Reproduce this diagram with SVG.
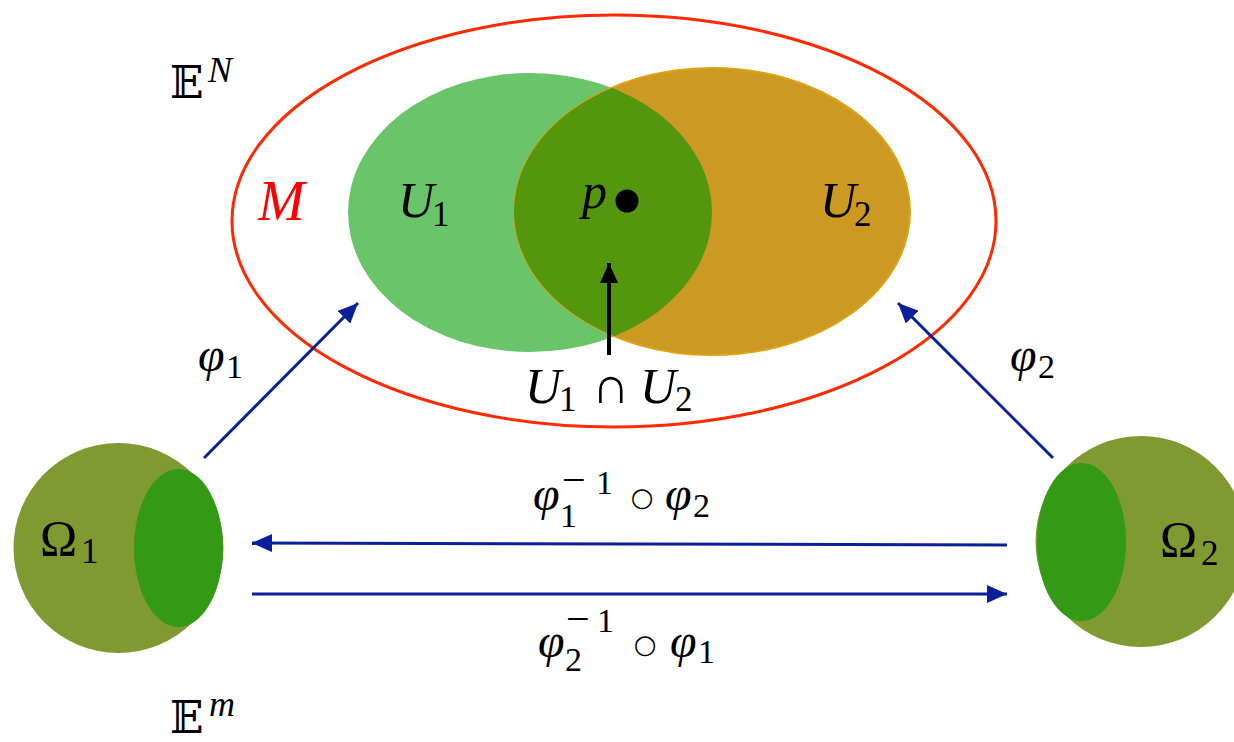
<svg xmlns="http://www.w3.org/2000/svg" width="1234" height="742" viewBox="0 0 1234 742">
<style>
.t{font-family:"Liberation Serif","DejaVu Serif",serif;fill:#000}
.i{font-style:italic}
.bb{font-family:"DejaVu Serif","DejaVu Sans","Noto Sans",serif;fill:#000}
.op{font-family:"DejaVu Sans","Noto Sans",sans-serif;fill:#000}
.conn{stroke:#0b1f99;stroke-width:3;fill:none}
</style>
<defs>
<marker id="ah" viewBox="0 0 20 18" refX="20" refY="9" markerWidth="20" markerHeight="18" markerUnits="userSpaceOnUse" orient="auto">
<path d="M0,0 L20,9 L0,18 Z" fill="#0b1f99"/>
</marker>
<marker id="ahk" viewBox="0 0 20 18" refX="20" refY="9" markerWidth="20" markerHeight="18" markerUnits="userSpaceOnUse" orient="auto">
<path d="M0,0 L20,9 L0,18 Z" fill="#000"/>
</marker>
<clipPath id="cU1"><ellipse cx="530" cy="212.5" rx="182" ry="139.5"/></clipPath>
</defs>

<g id="M">
<ellipse cx="614" cy="221" rx="382" ry="206" fill="none" stroke="#ff2a00" stroke-width="3"/>
<text class="t i" x="258" y="220" font-size="56" style="fill:#ff0000">M</text>
</g>

<g id="U1">
<ellipse cx="530" cy="212.5" rx="182" ry="139.5" fill="#6ac46a"/>
</g>
<g id="U2">
<ellipse cx="712" cy="211.5" rx="198" ry="143.5" fill="#cc9922" stroke="#dea21a" stroke-width="2"/>
</g>
<g id="U1capU2">
<ellipse cx="712" cy="211.5" rx="198" ry="143.5" fill="#55960f" clip-path="url(#cU1)"/>
</g>
<g id="labels-U">
<text class="t i" x="398" y="217" font-size="50">U</text>
<text class="t" x="432" y="226" font-size="35">1</text>
<text class="t i" x="820" y="217" font-size="50">U</text>
<text class="t" x="854" y="226" font-size="35">2</text>
</g>

<g id="p">
<text class="t i" x="582" y="208" font-size="50">p</text>
<circle cx="627" cy="201" r="11.5" fill="#000"/>
</g>

<g id="intersection-label">
<text class="t i" x="525" y="403" font-size="50">U</text>
<text class="t" x="559" y="411" font-size="35">1</text>
<text class="t" x="592" y="403" font-size="52">∩</text>
<text class="t i" x="640" y="403" font-size="50">U</text>
<text class="t" x="675" y="411" font-size="35">2</text>
</g>

<g id="EN">
<text class="bb" x="170" y="98" font-size="44">𝔼</text>
<text class="t i" x="208" y="82" font-size="36">N</text>
</g>
<g id="Em">
<text class="bb" x="170" y="733" font-size="44">𝔼</text>
<text class="t i" x="209" y="716" font-size="36">m</text>
</g>

<g id="Omega1">
<circle cx="118.5" cy="548" r="105" fill="#7e9a31"/>
<ellipse cx="178.5" cy="548" rx="44.5" ry="79" fill="#349a16"/>
<text class="t" x="40" y="555" font-size="50">Ω</text>
<text class="t" x="81" y="563" font-size="35">1</text>
</g>
<g id="Omega2">
<circle cx="1141" cy="541.5" r="105.5" fill="#7e9a31"/>
<ellipse cx="1081.5" cy="542" rx="44.5" ry="79" fill="#349a16"/>
<text class="t" x="1160" y="556" font-size="50">Ω</text>
<text class="t" x="1201" y="565" font-size="35">2</text>
</g>

<g id="connectors">
<line class="conn" x1="204" y1="458" x2="358" y2="303" marker-end="url(#ah)"/>
<line class="conn" x1="1053" y1="458" x2="898" y2="303" marker-end="url(#ah)"/>
<line class="conn" x1="1007" y1="545" x2="252" y2="543" marker-end="url(#ah)"/>
<line class="conn" x1="252" y1="594" x2="1007" y2="594" marker-end="url(#ah)"/>
<line x1="609" y1="355" x2="609" y2="263" stroke="#000" stroke-width="4" marker-end="url(#ahk)"/>
</g>

<g id="connector-labels">
<text class="t i" x="198" y="371" font-size="48">φ</text>
<text class="t" x="226" y="378" font-size="34">1</text>
<text class="t i" x="1010" y="371" font-size="48">φ</text>
<text class="t" x="1038" y="378" font-size="34">2</text>

<text class="t i" x="533" y="510" font-size="48">φ</text>
<text class="t" x="560" y="527" font-size="34">1</text>
<text class="t" x="562" y="494" font-size="42">−</text>
<text class="t" x="596" y="494" font-size="34">1</text>
<text class="op" x="642" y="506" font-size="26" text-anchor="middle">○</text>
<text class="t i" x="665" y="510" font-size="48">φ</text>
<text class="t" x="693" y="517" font-size="34">2</text>

<text class="t i" x="538" y="657" font-size="48">φ</text>
<text class="t" x="565" y="671" font-size="34">2</text>
<text class="t" x="566" y="633" font-size="42">−</text>
<text class="t" x="597" y="632" font-size="34">1</text>
<text class="op" x="645" y="653" font-size="26" text-anchor="middle">○</text>
<text class="t i" x="670" y="657" font-size="48">φ</text>
<text class="t" x="698" y="663" font-size="34">1</text>
</g>
</svg>
